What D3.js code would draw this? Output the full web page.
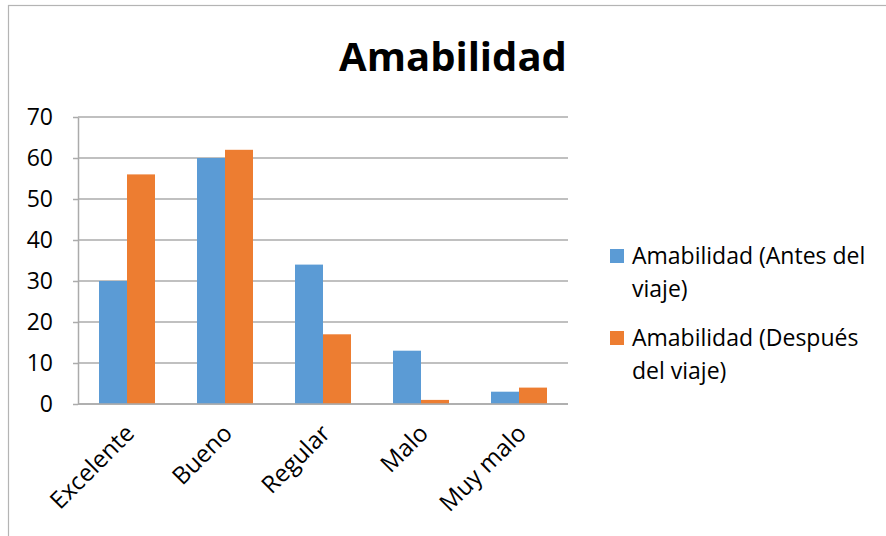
<!DOCTYPE html>
<html>
<head>
<meta charset="utf-8">
<script src="https://cdn.jsdelivr.net/npm/d3@7"></script>
<style>
  html, body { margin: 0; padding: 0; background: #fff; }
  svg { display: block; font-family: "Open Sans", sans-serif; }
</style>
</head>
<body>
<svg id="chart" width="886" height="536"></svg>
<script>
// Survey results: rating of friendliness before and after the trip
const categories = ["Excelente", "Bueno", "Regular", "Malo", "Muy malo"];
const antes = [30, 60, 34, 13, 3];
const despues = [56, 62, 17, 1, 4];
const seriesNames = ["Amabilidad (Antes del viaje)", "Amabilidad (Después del viaje)"];
const legendLines = [["Amabilidad (Antes del", "viaje)"], ["Amabilidad (Después", "del viaje)"]];
const yTicks = [0, 10, 20, 30, 40, 50, 60, 70];
const title = "Amabilidad";

const colors = ["#5B9BD5", "#ED7D31"];
const gridColor = "#ABABAB";

const svg = d3.select("#chart");

// outer chart frame (extends past the right and bottom edges)
svg.append("rect")
  .attr("x", 8.5).attr("y", 5.5)
  .attr("width", 1000).attr("height", 1000)
  .attr("fill", "none").attr("stroke", "#B4B4B4").attr("stroke-width", 1.2);

const plot = { left: 78, right: 568, top: 117, bottom: 404 };

const x0 = d3.scaleBand()
  .domain(categories)
  .range([plot.left, plot.right])
  .paddingInner(0.4286)
  .paddingOuter(0.2143);

const x1 = d3.scaleBand()
  .domain([0, 1])
  .range([0, x0.bandwidth()]);

const y = d3.scaleLinear()
  .domain([0, 70])
  .range([plot.bottom, plot.top]);

// horizontal gridlines
svg.append("g")
  .selectAll("line")
  .data(yTicks)
  .join("line")
  .attr("x1", plot.left).attr("x2", plot.right)
  .attr("y1", d => y(d)).attr("y2", d => y(d))
  .attr("stroke", gridColor).attr("stroke-width", 1.5);

// y axis with outside tick marks
const yAxis = svg.append("g")
  .attr("transform", `translate(${plot.left},0)`)
  .call(d3.axisLeft(y).tickValues(yTicks).tickSize(5).tickPadding(20).tickSizeOuter(0));
yAxis.select(".domain").attr("stroke", gridColor).attr("stroke-width", 1.5);
yAxis.selectAll(".tick line").attr("stroke", gridColor).attr("stroke-width", 1.5);
yAxis.selectAll(".tick text")
  .attr("font-family", "Open Sans, sans-serif")
  .attr("font-size", 23)
  .attr("fill", "#000");

// bars
const data = categories.map((c, i) => ({ cat: c, vals: [antes[i], despues[i]] }));
const groups = svg.append("g")
  .selectAll("g")
  .data(data)
  .join("g")
  .attr("transform", d => `translate(${x0(d.cat)},0)`);
groups.selectAll("rect")
  .data(d => d.vals.map((v, k) => ({ k, v })))
  .join("rect")
  .attr("x", d => x1(d.k))
  .attr("width", x1.bandwidth())
  .attr("y", d => y(d.v))
  .attr("height", d => y(0) - y(d.v))
  .attr("fill", d => colors[d.k]);

// x axis baseline
svg.append("line")
  .attr("x1", plot.left).attr("x2", plot.right)
  .attr("y1", plot.bottom).attr("y2", plot.bottom)
  .attr("stroke", gridColor).attr("stroke-width", 1.5);

// rotated category labels
svg.append("g")
  .selectAll("text")
  .data(categories)
  .join("text")
  .attr("transform", d => `translate(${x0(d) + x0.bandwidth() / 2 - 4},${plot.bottom + 18}) rotate(-45)`)
  .attr("text-anchor", "end")
  .attr("dy", "0.75em")
  .attr("font-size", 24)
  .attr("fill", "#000")
  .text(d => d);

// title
svg.append("text")
  .attr("x", 453).attr("y", 71)
  .attr("text-anchor", "middle")
  .attr("font-size", 40)
  .attr("font-weight", "bold")
  .attr("fill", "#000")
  .text(title);

// legend
const legendTop = [249, 331];
const legend = svg.append("g")
  .selectAll("g")
  .data(seriesNames)
  .join("g");
legend.append("rect")
  .attr("x", 610)
  .attr("y", (d, i) => legendTop[i])
  .attr("width", 14).attr("height", 14)
  .attr("fill", (d, i) => colors[i]);
legend.append("text")
  .attr("font-size", 23)
  .attr("fill", "#000")
  .selectAll("tspan")
  .data((d, i) => legendLines[i].map((t, j) => ({ t, i, j })))
  .join("tspan")
  .attr("x", 632)
  .attr("y", d => legendTop[d.i] + 15 + d.j * 33)
  .text(d => d.t);
</script>
</body>
</html>
